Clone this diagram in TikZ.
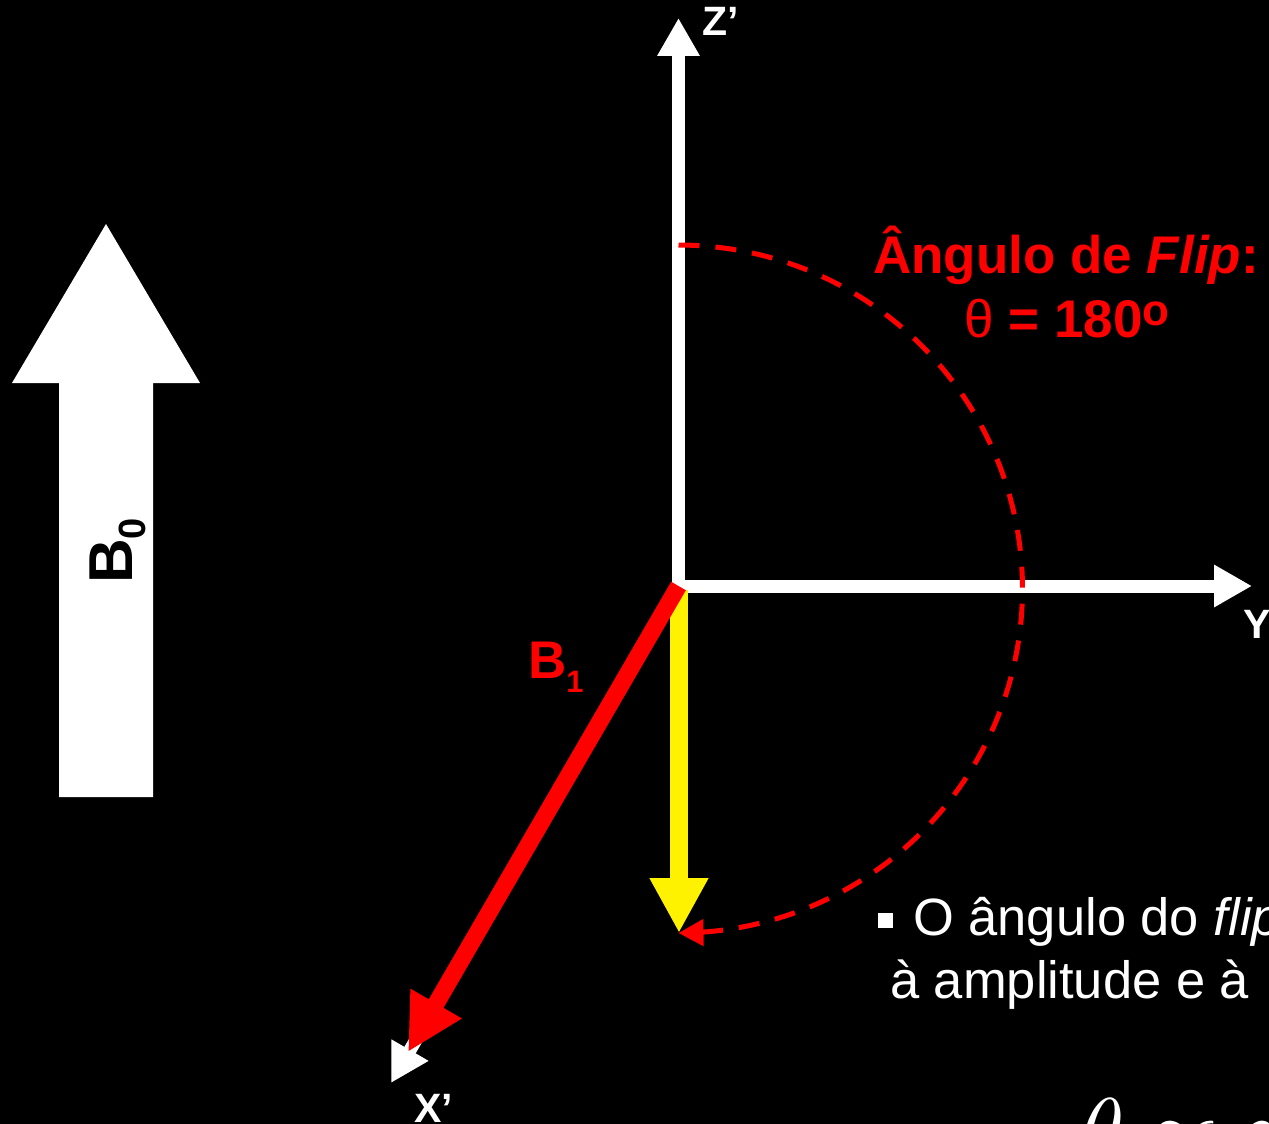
\documentclass[tikz,border=0pt]{standalone}
\usepackage{fontspec}
\setmainfont{Liberation Sans}
\usetikzlibrary{arrows.meta}
\begin{document}
\begin{tikzpicture}[x=1pt,y=-1pt,
  axisline/.style={line width=13pt, white, -{Triangle[length=38pt,width=40pt]}},
  axislbl/.style={text=white, inner sep=0pt, anchor=base west, font=\fontsize{41}{41}\selectfont\bfseries},
  redlbl/.style={text=red, inner sep=0pt, font=\fontsize{53}{53}\selectfont\bfseries},
  bodytxt/.style={text=white, inner sep=0pt, anchor=base west, font=\fontsize{52.5}{52.5}\selectfont}]
\useasboundingbox (0,0) rectangle (1269,1124);
\fill[black] (0,0) rectangle (1269,1124);
% coordinates
\coordinate (O) at (678.5,586);
\coordinate (Zs) at (678.5,592.5);
\coordinate (Ys) at (672,586);
\coordinate (Ztip) at (678.5,18);
\coordinate (Ytip) at (1252,586);
\coordinate (Xtip) at (391,1083);
\coordinate (B1tip) at (408,1052);
\coordinate (Ms) at (679,590);
\coordinate (Mtip) at (679,933);
% B0 block arrow
\fill[white] (59,797) -- (59,383) -- (12,383) -- (106,224) -- (200,383) -- (153,383) -- (153,797) -- cycle;
\node[rotate=90, anchor=base west, inner sep=0pt, text=black, font=\fontsize{62}{62}\selectfont\bfseries] (B0) at (132,584) {B\raisebox{-13pt}{\fontsize{38}{38}\selectfont 0}};
% axes
\draw[axisline] (Zs) -- (Ztip);
\draw[axisline] (Ys) -- (Ytip);
\draw[axisline] (O) -- (Xtip);
% magnetization (yellow)
\draw[line width=18pt, yellow, -{Triangle[length=55pt,width=55pt]}] (Ms) -- (Mtip);
% B1 (red)
\draw[line width=17pt, red, -{Triangle[length=56pt,width=55pt]}] (O) -- (B1tip);
% dashed arc
\draw[red, line width=5pt, dash pattern=on 21pt off 16pt, -{Triangle[length=25pt,width=26pt]}]
  plot[domain=90:-90, samples=120] ({678.5+344*cos(\x)},{589-344*sin(\x)});
% labels
\node[axislbl] (Zl) at (702,36) {Z’};
\node[axislbl] (Yl) at (1243,638) {Y};
\node[axislbl] (Xl) at (414,1122) {X’};
\node[redlbl, anchor=base west] (B1) at (528,678) {B\raisebox{-14pt}{\fontsize{31}{31}\selectfont 1}};
\node[redlbl, anchor=base] (T1) at (1066,273) {Ângulo de \textit{Flip}:};
\node[redlbl, anchor=base] (T2) at (1067,337) {{\mdseries θ} = 180\raisebox{12pt}{\fontsize{44}{44}\selectfont o}};
% bullet text
\node[fill=white, minimum size=15pt, inner sep=0pt] (bul) at (885,920) {};
\node[bodytxt] (L1) at (913,935) {O ângulo do \textit{flip}};
\node[bodytxt] (L2) at (890,998) {à amplitude e à};
\node[text=white, inner sep=0pt, anchor=base west] (F) at (1080,1160) {\scalebox{8.9}{$\theta\propto\gamma$}};
\end{tikzpicture}
\end{document}
